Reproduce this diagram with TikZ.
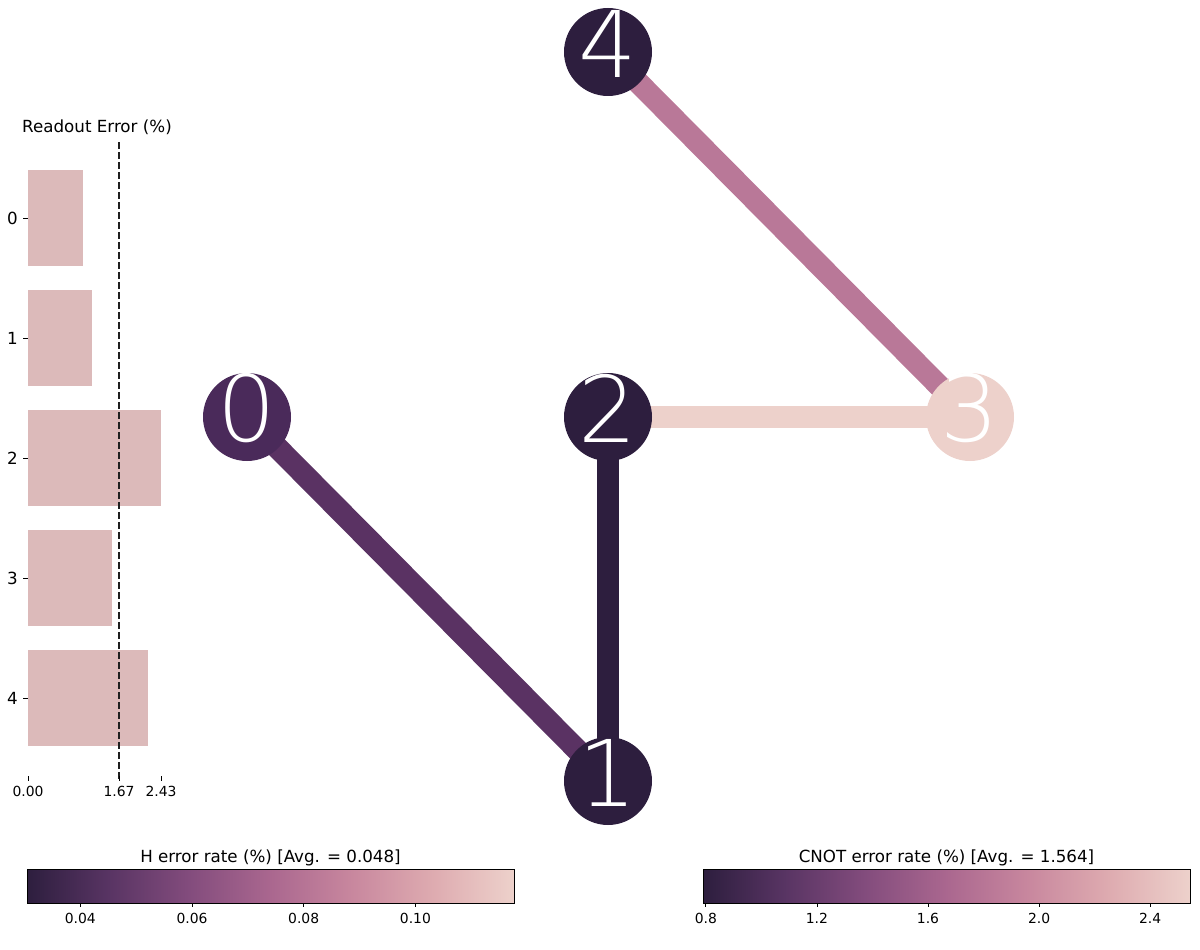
\documentclass[tikz,border=0pt]{standalone}
\usepackage{fontspec}
\setmainfont{DejaVu Sans}
\newfontfamily\qfont{DejaVu Sans ExtraLight}
\usetikzlibrary{backgrounds}

\definecolor{hx0}{RGB}{45,30,62}
\definecolor{hx1}{RGB}{88,52,99}
\definecolor{hx2}{RGB}{131,76,125}
\definecolor{hx3}{RGB}{170,103,143}
\definecolor{hx4}{RGB}{200,135,158}
\definecolor{hx5}{RGB}{222,171,176}
\definecolor{hx6}{RGB}{237,209,203}
\definecolor{rbar}{RGB}{220,186,186}
\definecolor{qzero}{RGB}{74,42,90}
\definecolor{lfour}{RGB}{185,120,152}
\definecolor{lzero}{RGB}{90,50,99}

\pgfdeclarehorizontalshading{helixbar}{100bp}{color(0bp)=(hx0); color(25bp)=(hx0); color(33.33bp)=(hx1); color(41.67bp)=(hx2); color(50bp)=(hx3); color(58.33bp)=(hx4); color(66.67bp)=(hx5); color(75bp)=(hx6); color(100bp)=(hx6)}

\begin{document}
\begin{tikzpicture}[x=1pt,y=-1pt,
	qubit/.style={circle,inner sep=0pt,minimum size=88pt},
	qlab/.style={text=white,inner sep=0pt,yshift=8.5pt,font=\qfont\fontsize{92}{92}\selectfont},
	link/.style={line width=22pt},
	lbl/.style={inner sep=0pt,font=\fontsize{16.7}{20}\selectfont},
	tck/.style={inner sep=0pt,font=\fontsize{13.9}{16}\selectfont},
	cbar/.style={draw,line width=0.8pt,inner sep=0pt,minimum width=487pt,minimum height=34pt,shading=helixbar}]
	\useasboundingbox (0,0) rectangle (1200,950);
	% readout error bars
	\node[lbl,anchor=base] (rtitle) at (97,132) {Readout Error (\%)};
	\foreach \i/\w in {0/83,1/92,2/161,3/112,4/148}
	{
	\fill[rbar] (28,{170+120*\i}) rectangle (\w,{266+120*\i});
	\draw[line width=0.8pt] (23,{218+120*\i}) -- (28,{218+120*\i});
	\node[lbl,anchor=east] at (18,{218+120*\i}) {\i};
	}
	\coordinate (avgtop) at (119,142);
	\coordinate (avgbot) at (119,780);
	\draw[line width=2pt,color=black!88,dash pattern=on 7pt off 3pt] (avgtop) -- (avgbot);
	\foreach \x/\t in {28/0.00,119/1.67,161/2.43}
	{
	\draw[line width=0.8pt] (\x,776) -- (\x,781);
	\node[tck] at (\x,791) {\t};
	}
	% qubits and links
	\node[qubit,fill=qzero,label={[qlab]center:0}] (q0) at (247,417) {};
	\node[qubit,fill=hx0,label={[qlab]center:1}] (q1) at (608,781) {};
	\node[qubit,fill=hx0,label={[qlab]center:2}] (q2) at (608,417) {};
	\node[qubit,fill=hx6,label={[qlab]center:3}] (q3) at (970,417) {};
	\node[qubit,fill=hx0,label={[qlab]center:4}] (q4) at (608,52) {};
	\begin{scope}[on background layer]
	\draw[link,lzero] (q0.center) -- (q1.center);
	\draw[link,hx0] (q1.center) -- (q2.center);
	\draw[link,hx6] (q2.center) -- (q3.center);
	\draw[link,lfour] (q3.center) -- (q4.center);
	\end{scope}
	% colour bars
	\node[cbar] (hbar) at (270.5,886) {};
	\node[lbl,anchor=base] at (270.5,862) {H error rate (\%) [Avg. = 0.048]};
	\foreach \i/\t in {0/0.04,1/0.06,2/0.08,3/0.10}
	{
	\draw[line width=0.8pt] ({80.3+111.7*\i},903) -- ({80.3+111.7*\i},907);
	\node[tck] at ({80.3+111.7*\i},918) {\t};
	}
	\node[cbar] (cxbar) at (946.5,886) {};
	\node[lbl,anchor=base] at (946.5,862) {CNOT error rate (\%) [Avg. = 1.564]};
	\foreach \i/\t in {0/0.8,1/1.2,2/1.6,3/2.0,4/2.4}
	{
	\draw[line width=0.8pt] ({705.8+111.1*\i},903) -- ({705.8+111.1*\i},907);
	\node[tck] at ({705.8+111.1*\i},918) {\t};
	}
\end{tikzpicture}
\end{document}
